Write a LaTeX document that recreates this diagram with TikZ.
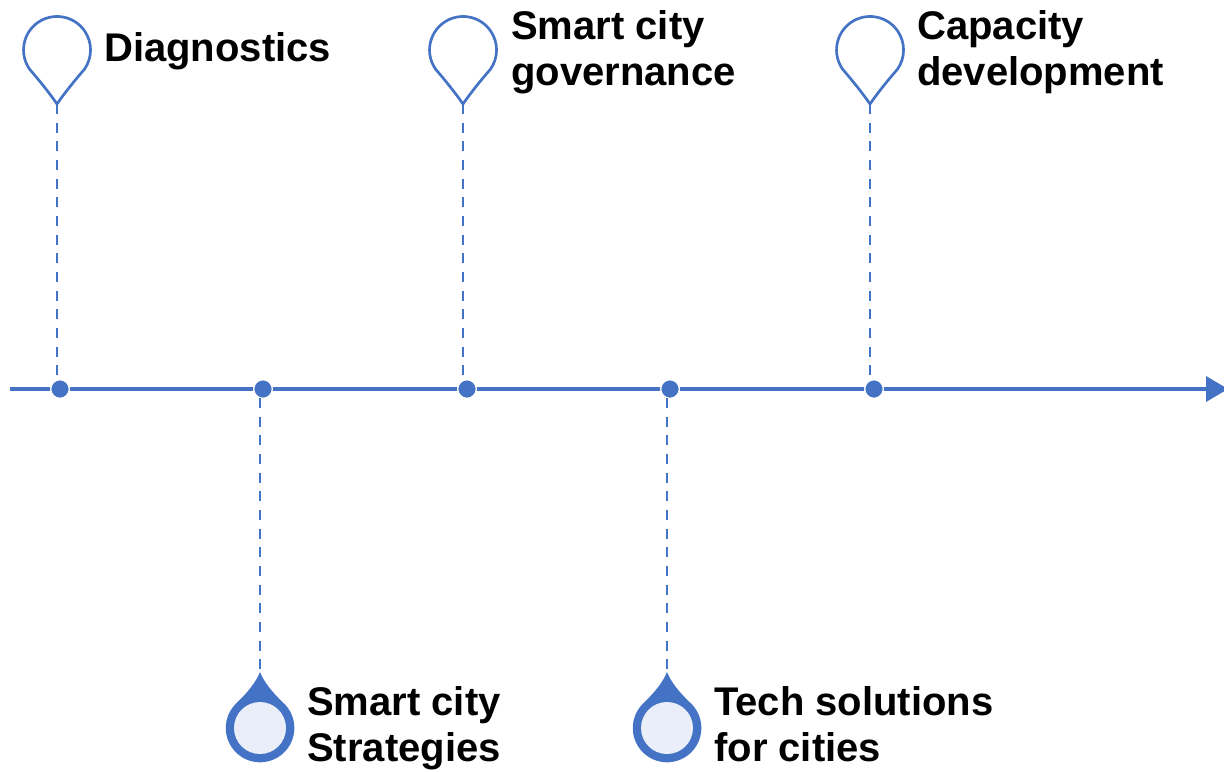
\documentclass[tikz,border=0pt]{standalone}
\usepackage{fontspec}
\setmainfont{Liberation Sans}
\definecolor{lineblue}{HTML}{4472C4}
\definecolor{paleblue}{HTML}{E9EEF8}
\tikzset{
  label/.style={anchor=base west,inner sep=0pt,align=left,text=black,font=\bfseries\fontsize{30}{34.5}\selectfont},
  dot/.style={circle,fill=lineblue,draw=white,line width=1pt,inner sep=0pt,minimum size=14pt},
  stem/.style={draw=lineblue,line width=2.2pt,dash pattern=on 7.5pt off 6.5pt},
  pinline/.style={draw=lineblue,line width=2pt,fill=white}
}
\begin{document}
\begin{tikzpicture}[x=0.75pt,y=-0.75pt]
  \useasboundingbox (0,0) rectangle (1224,771);
  % axis
  \coordinate (start) at (10,389);
  \coordinate (end) at (1207,389);
  \draw[lineblue,line width=3.4pt] (start) -- (end);
  \fill[lineblue] (1206,376) -- (1228,389) -- (1206,402) -- cycle;
  \foreach \name/\xa in {a/60,b/263,c/467,d/670,e/874}
    \node[dot] (dot \name) at (\xa,389) {};
  % open pins on top
  \foreach \name/\xa in {a/57,c/463,e/870}{
    \coordinate (pin \name) at (\xa,104);
    \coordinate (foot \name) at (\xa,381);
    \draw[pinline] (pin \name)
       .. controls (\xa-9,91) and (\xa-19,79) .. (\xa-27.4,69.2)
       arc[start angle=145,end angle=395,radius=33.5]
       .. controls (\xa+19,79) and (\xa+9,91) .. (pin \name);
    \draw[stem] (pin \name) -- (foot \name);
  }
  % filled pins below
  \foreach \name/\xa in {b/260,d/667}{
    \coordinate (pin \name) at (\xa,672);
    \coordinate (head \name) at (\xa,398);
    \fill[lineblue] (pin \name)
       .. controls (\xa+4,682) and (\xa+12,692) .. (\xa+23,702.5)
       arc[start angle=-48,end angle=228,radius=34.3]
       .. controls (\xa-12,692) and (\xa-4,682) .. (pin \name);
    \node[circle,fill=paleblue,inner sep=0pt,minimum size=39pt] (bulb \name) at (\xa,728) {};
    \draw[stem] (head \name) -- (pin \name);
  }
  % labels
  \node[label] (diag) at (104,61) {Diagnostics};
  \node[label] (gov) at (511,85.5) {Smart city\\governance};
  \node[label] (cap) at (917,85.5) {Capacity\\development};
  \node[label] (strat) at (307,761.5) {Smart city\\Strategies};
  \node[label] (tech) at (714,761.5) {Tech solutions\\for cities};
\end{tikzpicture}
\end{document}
